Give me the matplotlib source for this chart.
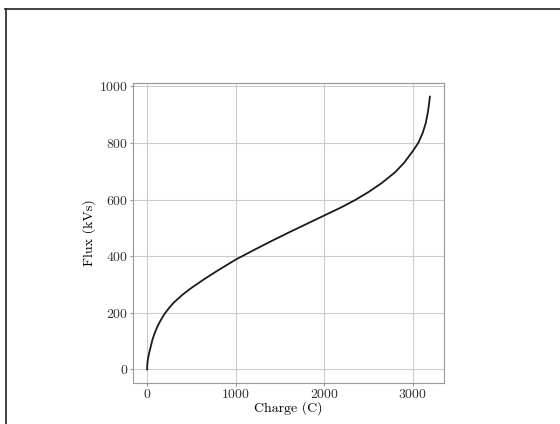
import numpy as np
import matplotlib
matplotlib.use("Agg")
import matplotlib.pyplot as plt
from matplotlib.lines import Line2D

plt.rcParams['font.family'] = 'serif'
plt.rcParams['font.serif'] = ['cmr10']
plt.rcParams['mathtext.fontset'] = 'cm'
plt.rcParams['axes.formatter.use_mathtext'] = True

# Ladung (C) und Fluss (kVs)
charge = [0, 2, 8, 23, 40, 60, 85, 117, 145, 173, 203, 250, 300, 400, 500,
          650, 800, 1000, 1200, 1400, 1600, 1800, 2000, 2200, 2356, 2500,
          2650, 2800, 2900, 3000, 3060, 3110, 3145, 3170, 3185, 3192]
flux = [0, 17, 35, 58, 80, 105, 128, 152, 169, 184, 199, 218, 236, 264, 288,
        320, 350, 388, 421, 453, 484, 514, 544, 574, 600, 627,
        659, 697, 730, 772, 800, 835, 870, 910, 945, 964]

fig = plt.figure(figsize=(5.6, 4.24), dpi=100)
ax = fig.add_axes([0.2375, 0.0967, 0.5554, 0.7075])

ax.plot(charge, flux, color='#1a1a1a', lw=1.3)
ax.set_xlabel('Charge (C)', fontsize=10, labelpad=0)
ax.set_ylabel('Flux (kVs)', fontsize=10, labelpad=2)
ax.set_xticks([0, 1000, 2000, 3000])
ax.set_yticks([0, 200, 400, 600, 800, 1000])
ax.grid(True, color='#cccccc', lw=0.8)
ax.set_axisbelow(True)
for s in ax.spines.values():
    s.set_color('#999999')
ax.tick_params(colors='#999999', labelcolor='#333333', labelsize=10,
               length=2, width=0.8, pad=1.5)

# Rahmen oben und links
fig.add_artist(Line2D([5/560, 1], [1 - 8.5/424, 1 - 8.5/424], color='#222222', lw=1.2))
fig.add_artist(Line2D([5.5/560, 5.5/560], [0, 1 - 8.5/424], color='#222222', lw=1.2))

fig.savefig('out.png', dpi=100)
